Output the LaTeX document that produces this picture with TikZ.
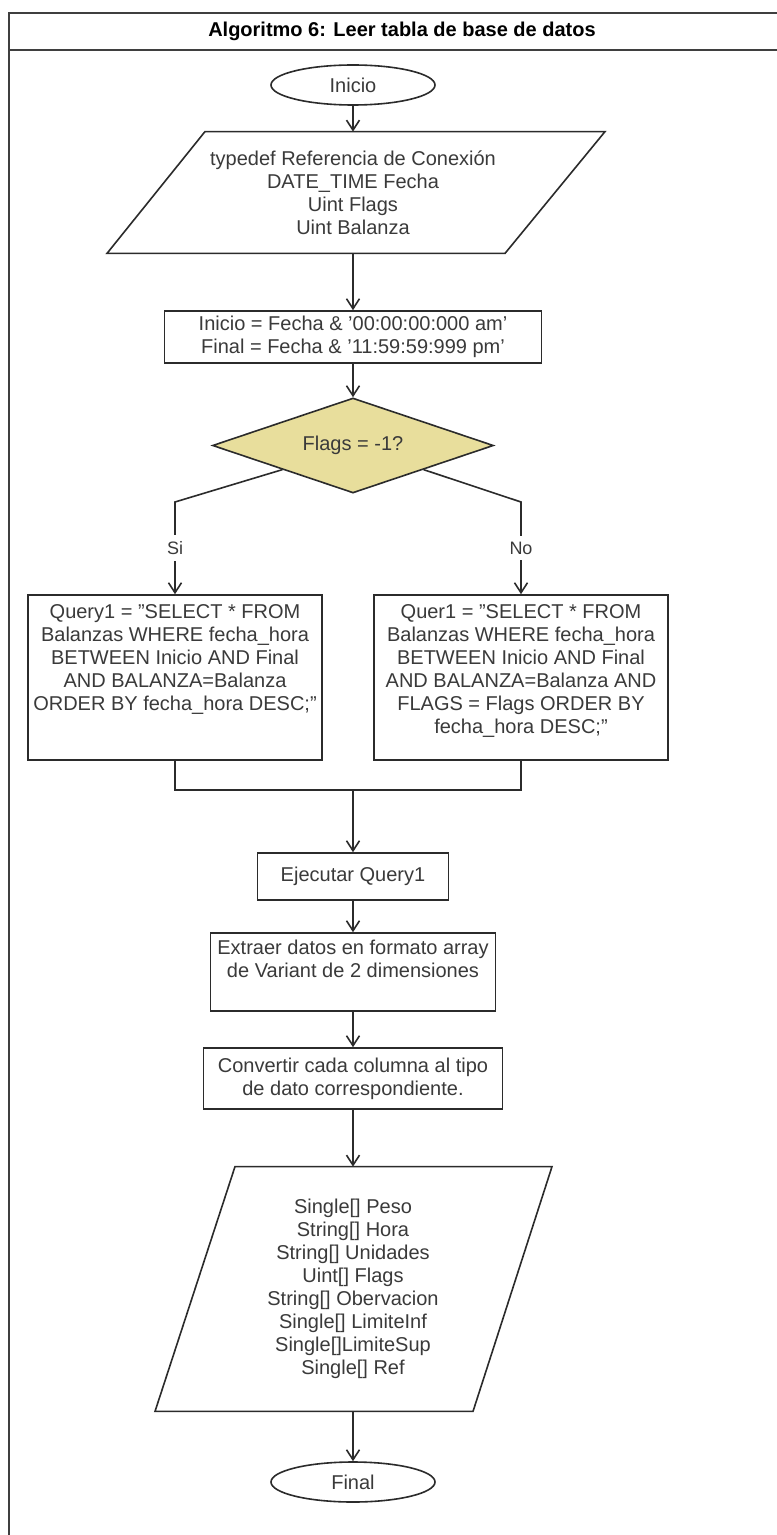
\documentclass[tikz,border=0pt]{standalone}
\usepackage{fontspec}
\setmainfont{Liberation Sans}
\usetikzlibrary{shapes.geometric,arrows.meta,calc}
\definecolor{lncol}{HTML}{2B2B2B}
\definecolor{txcol}{HTML}{3A3A3A}
\definecolor{framecol}{HTML}{3F3F3F}
\definecolor{decfill}{HTML}{E8DE9C}
\newcommand{\flowfont}{\fontsize{10pt}{11.5pt}\selectfont}
\newcommand{\lblfont}{\fontsize{9pt}{10pt}\selectfont}
\tikzset{
  line/.style={draw=lncol, line width=0.8pt},
  flow/.style={draw=lncol, line width=0.8pt, -{Straight Barb[length=5pt,width=6.5pt]}},
  frame/.style={draw=framecol, line width=1pt},
  procbox/.style={draw=lncol, line width=0.8pt, rectangle, inner sep=0pt,
    align=center, font=\flowfont, text=txcol},
  txt/.style={inner sep=0pt, align=center, font=\flowfont, text=txcol},
  term/.style={draw=lncol, line width=0.8pt, ellipse, inner sep=0pt,
    minimum width=82pt, minimum height=20pt, font=\flowfont, text=txcol},
  decision/.style={draw=lncol, line width=0.8pt, diamond, fill=decfill,
    aspect=2.96, inner sep=0pt, minimum width=140.5pt, minimum height=47.5pt,
    font=\flowfont, text=txcol},
  branchlbl/.style={fill=white, inner xsep=1pt, inner ysep=3pt,
    font=\lblfont, text=txcol}
}
\begin{document}
\begin{tikzpicture}[x=0.5pt,y=-0.5pt]
\useasboundingbox (0,0) rectangle (776,1535);
\fill[white] (0,0) rectangle (776,1535);

% outer frame and title bar
\draw[frame] (790,13.5) -- (9,13.5) -- (9,1545);
\draw[frame] (9,50) -- (790,50);
\node[inner sep=0pt, font=\fontsize{10pt}{12pt}\selectfont\bfseries, text=black]
  (title) at (402,31) {Algoritmo 6: Leer tabla de base de datos};

% start
\node[term] (ini) at (353,85) {Inicio};

% input data
\node[txt, minimum width=200pt, minimum height=60.5pt] (p1) at (353,192.5)
  {typedef Referencia de Conexión\\DATE\_TIME Fecha\\Uint Flags\\Uint Balanza};
\draw[line] ($(p1.north)+(-148,0)$) -- ($(p1.north)+(252,0)$)
  -- ($(p1.south)+(152,0)$) -- ($(p1.south)+(-246,0)$) -- cycle;

% time range
\node[procbox, minimum width=188.5pt, minimum height=26pt] (rng) at (353,337)
  {Inicio = Fecha \& '00:00:00:000 am'\\Final = Fecha \& '11:59:59:999 pm'};

% decision
\node[decision] (dec) at (353,445.5) {Flags = -1?};

% query boxes
\node[procbox, minimum width=147pt, minimum height=82.5pt] (q1) at (175,677.5) {};
\node[txt, anchor=north] (q1t) at ($(q1.north)+(0,10)$)
  {Query1 = "SELECT * FROM\\Balanzas WHERE fecha\_hora\\BETWEEN Inicio AND Final\\AND BALANZA=Balanza\\ORDER BY fecha\_hora DESC;"};
\node[procbox, minimum width=147pt, minimum height=82.5pt] (q2) at (521,677.5) {};
\node[txt, anchor=north] (q2t) at ($(q2.north)+(0,10)$)
  {Quer1 = "SELECT * FROM\\Balanzas WHERE fecha\_hora\\BETWEEN Inicio AND Final\\AND BALANZA=Balanza AND\\FLAGS = Flags ORDER BY\\fecha\_hora DESC;"};

% branches
\coordinate (bl) at (175,502);
\coordinate (br) at (521,502);
\draw[flow] (dec.south west) -- (bl) -- node[branchlbl] (si) {Si} (q1.north);
\draw[flow] (dec.south east) -- (br) -- node[branchlbl] (no) {No} (q2.north);

% merge
\coordinate (mrg) at (353,790);
\node[procbox, minimum width=95.5pt, minimum height=23.5pt] (ej) at (353,876.5) {Ejecutar Query1};
\draw[line] (q1.south) |- (mrg) -| (q2.south);
\draw[flow] (mrg) -- (ej.north);

% processing
\node[procbox, minimum width=142.5pt, minimum height=39pt] (ex) at (353,972) {};
\node[txt, anchor=north] (ext) at ($(ex.north)+(0,7)$)
  {Extraer datos en formato array\\de Variant de 2 dimensiones};
\node[procbox, minimum width=149.5pt, minimum height=30.5pt] (cv) at (353,1078.5)
  {Convertir cada columna al tipo\\de dato correspondiente.};

% output data
\node[txt, minimum width=160pt, minimum height=122pt] (p2) at (353,1289)
  {Single[] Peso\\String[] Hora\\String[] Unidades\\Uint[] Flags\\String[] Obervacion\\Single[] LimiteInf\\Single[]LimiteSup\\Single[] Ref};
\draw[line] ($(p2.north)+(-118,0)$) -- ($(p2.north)+(199,0)$)
  -- ($(p2.south)+(120,0)$) -- ($(p2.south)+(-198,0)$) -- cycle;

% end
\node[term] (fin) at (353,1482) {Final};

% main flow
\draw[flow] (ini) -- (p1.north);
\draw[flow] (p1.south) -- (rng);
\draw[flow] (rng) -- (dec);
\draw[flow] (ej) -- (ex);
\draw[flow] (ex) -- (cv);
\draw[flow] (cv) -- (p2.north);
\draw[flow] (p2.south) -- (fin);
\end{tikzpicture}
\end{document}
